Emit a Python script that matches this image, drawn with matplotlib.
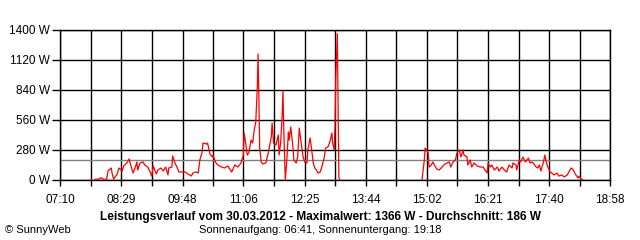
import matplotlib
matplotlib.use("Agg")
import matplotlib.pyplot as plt

# power readings (W), morning block
morning_times = [
    "07:55", "07:59", "08:03", "08:06", "08:10", "08:12", "08:16", "08:17", "08:19", "08:23",
    "08:26", "08:30", "08:32", "08:36", "08:39", "08:41", "08:44", "08:47", "08:49", "08:50",
    "08:53", "08:57", "08:59", "09:03", "09:06", "09:08", "09:10", "09:14", "09:16", "09:20",
    "09:23", "09:26", "09:29", "09:30", "09:34", "09:35", "09:38", "09:41", "09:43", "09:47",
    "09:51", "09:55", "09:59", "10:01", "10:05", "10:08", "10:10", "10:13", "10:14", "10:19",
    "10:20", "10:23", "10:26", "10:27", "10:30", "10:32", "10:35", "10:38", "10:42", "10:46",
    "10:51", "10:55", "10:59", "11:03", "11:06", "11:07", "11:09", "11:11", "11:13", "11:16",
    "11:18", "11:20", "11:22", "11:24", "11:25", "11:26", "11:27", "11:29", "11:31", "11:35",
    "11:38", "11:42", "11:43", "11:45", "11:48", "11:51", "11:52", "11:54", "11:56", "11:57",
    "11:58", "12:00", "12:02", "12:04", "12:05", "12:07", "12:10", "12:11", "12:14", "12:16",
    "12:18", "12:20", "12:23", "12:25", "12:28", "12:29", "12:32", "12:34", "12:36", "12:38",
    "12:41", "12:42", "12:45", "12:47", "12:50", "12:52", "12:55", "12:58", "13:00", "13:01",
    "13:03", "13:04", "13:05", "13:07", "13:08", "13:09", "13:10",
]
morning_watts = [
    7, 7, 21, 7, 7, 87, 112, 65, 9, 47,
    112, 84, 131, 159, 196, 140, 65, 121, 168, 93,
    159, 168, 140, 121, 75, 37, 131, 56, 93, 112,
    84, 121, 47, 112, 121, 224, 159, 112, 75, 75,
    75, 56, 37, 65, 75, 65, 187, 261, 345, 336,
    345, 243, 215, 233, 168, 149, 131, 121, 112, 131,
    75, 140, 121, 159, 233, 439, 345, 233, 252, 373,
    345, 467, 541, 868, 1176, 775, 308, 168, 149, 159,
    252, 401, 532, 345, 327, 420, 233, 345, 607, 831,
    495, 0, 187, 448, 373, 495, 299, 187, 159, 215,
    485, 373, 215, 168, 159, 280, 392, 280, 159, 112,
    84, 65, 75, 121, 205, 299, 308, 373, 439, 345,
    280, 495, 961, 1366, 681, 30, 0,
]

# afternoon block
afternoon_times = [
    "14:56", "14:57", "14:59", "15:00", "15:02", "15:04", "15:05", "15:08", "15:10", "15:12",
    "15:15", "15:18", "15:22", "15:24", "15:28", "15:31", "15:33", "15:36", "15:39", "15:41",
    "15:44", "15:46", "15:49", "15:50", "15:54", "15:55", "15:58", "16:00", "16:03", "16:07",
    "16:11", "16:15", "16:17", "16:20", "16:21", "16:24", "16:26", "16:29", "16:33", "16:35",
    "16:39", "16:42", "16:45", "16:48", "16:52", "16:53", "16:57", "16:58", "17:01", "17:03",
    "17:06", "17:09", "17:11", "17:13", "17:15", "17:18", "17:19", "17:23", "17:25", "17:27",
    "17:29", "17:32", "17:33", "17:34", "17:37", "17:38", "17:41", "17:43", "17:46", "17:50",
    "17:52", "17:56", "17:59", "18:03", "18:05", "18:08", "18:10", "18:12", "18:14", "18:17",
    "18:18", "18:21", "18:23",
]
afternoon_watts = [
    0, 65, 187, 299, 280, 252, 121, 140, 168, 140,
    103, 93, 121, 140, 159, 168, 121, 168, 187, 252,
    280, 215, 280, 233, 215, 140, 187, 121, 159, 131,
    121, 121, 93, 65, 159, 121, 140, 93, 121, 84,
    121, 93, 75, 140, 112, 159, 140, 93, 187, 168,
    215, 168, 187, 205, 159, 168, 159, 121, 112, 140,
    84, 159, 187, 233, 140, 121, 75, 65, 47, 65,
    37, 47, 28, 47, 75, 112, 103, 75, 47, 19,
    37, 9, 0,
]

average_w = 186
tick_labels = ["07:10", "08:29", "09:48", "11:06", "12:25", "13:44", "15:02", "16:21", "17:40", "18:58"]
y_ticks = [0, 280, 560, 840, 1120, 1400]


def to_hours(s):
    h, m = s.split(":")
    return int(h) + int(m) / 60.0


plt.rcParams['font.family'] = ['Liberation Sans', 'DejaVu Sans']

fig = plt.figure(figsize=(6.4, 2.4), dpi=100)
fig.patch.set_facecolor("white")
ax = fig.add_axes([60 / 640, 60 / 240, 550 / 640, 150 / 240])

major = [to_hours(t) for t in tick_labels]
x0, x1 = major[0], major[-1]
minor = [(a + b) / 2 for a, b in zip(major[:-1], major[1:])]

ax.set_xlim(x0, x1)
ax.set_ylim(0, 1400)

# grid
for x in major + minor:
    ax.axvline(x, color="black", lw=1.0, zorder=1)
for y in y_ticks:
    ax.axhline(y, color="black", lw=1.0, zorder=1)
ax.axhline(average_w, color="#808080", lw=1.0, zorder=2)

ax.plot([to_hours(t) for t in morning_times], morning_watts, color="red", lw=0.9, zorder=3)
ax.plot([to_hours(t) for t in afternoon_times], afternoon_watts, color="red", lw=0.9, zorder=3)

ax.set_xticks(major)
ax.set_xticks(minor, minor=True)
ax.set_xticklabels(tick_labels)
ax.set_yticks(y_ticks)
ax.set_yticklabels([f"{v} W" for v in y_ticks])
ax.tick_params(axis="x", which="both", length=4, width=1.0, color="black",
               labelsize=8.5, pad=6)
ax.tick_params(axis="y", length=6, width=1.0, color="black", labelsize=8.5, pad=1)
for sp in ax.spines.values():
    sp.set_linewidth(1.0)
    sp.set_color("black")

fig.text(0.5, 1 - 217 / 240, "Leistungsverlauf vom 30.03.2012 - Maximalwert: 1366 W - Durchschnitt: 186 W",
         ha="center", va="center", fontsize=8.6, fontweight="bold")
fig.text(0.5, 1 - 230 / 240, "Sonnenaufgang: 06:41, Sonnenuntergang: 19:18",
         ha="center", va="center", fontsize=8)
fig.text(5 / 640, 1 - 230 / 240, "© SunnyWeb", ha="left", va="center", fontsize=8)

fig.savefig("out.png", dpi=100, facecolor="white")
